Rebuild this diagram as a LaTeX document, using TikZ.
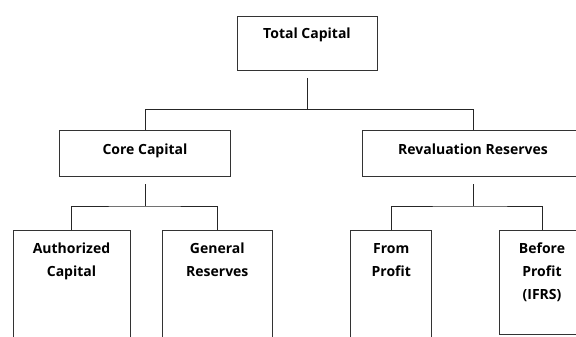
\documentclass[tikz,border=0pt]{standalone}
\usepackage{fontspec}
\setmainfont{Open Sans}
\usetikzlibrary{positioning}
\tikzset{
  capbox/.style={draw=black!80, line width=1pt, inner sep=0pt, anchor=north,
    font=\bfseries\fontsize{14}{23}\selectfont, align=center},
  link/.style={draw=black!85, line width=1pt}
}
\begin{document}
\begin{tikzpicture}[x=1pt,y=-1pt]
  \useasboundingbox (0,0) rectangle (576,337);
  \clip (0,0) rectangle (576,337);
  % top level
  \node[capbox, minimum width=140, text height=22, text depth=32] (tot) at (307,16) {Total Capital};
  % second level
  \node[capbox, minimum width=170.5, text height=24, text depth=22] (core) at (145,130) {Core Capital};
  \node[capbox, minimum width=221, text height=24, text depth=22] (rev) at (473,130) {Revaluation Reserves};
  % third level (text height counts to the last line)
  \node[capbox, minimum width=117, text height=46, text depth=80] (auth) at (71.5,230) {Authorized\\Capital};
  \node[capbox, minimum width=110.5, text height=46, text depth=80] (gen) at (217.3,230) {General\\Reserves};
  \node[capbox, minimum width=81, text height=46, text depth=80] (from) at (391.3,230) {From\\Profit};
  \node[capbox, minimum width=85, text height=69, text depth=35] (bef) at (542,230) {Before\\Profit\\(IFRS)};
  % connectors
  \draw[link] ([yshift=-7pt]tot.south) -- ++(0,31.5) coordinate (j0);
  \draw[link] (core.north) |- (j0) -| (rev.north);
  \draw[link] ([yshift=-7pt]core.south) -- ++(0,22) coordinate (j1);
  \draw[link] (auth.north) |- (j1) -| (gen.north);
  \draw[link] ([yshift=-7pt]rev.south) -- ++(0,22) coordinate (j2);
  \draw[link] (from.north) |- (j2) -| (bef.north);
\end{tikzpicture}
\end{document}
